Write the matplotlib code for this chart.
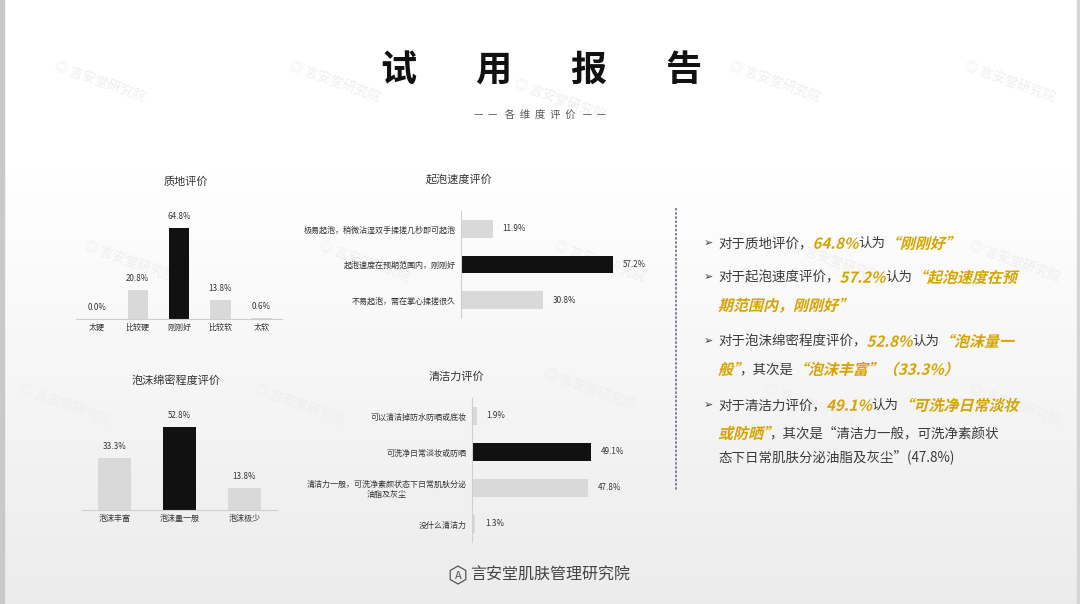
import numpy as np
import matplotlib
matplotlib.use("Agg")
import matplotlib.pyplot as plt
from matplotlib.textpath import TextPath
from matplotlib.font_manager import FontProperties
from matplotlib.patches import PathPatch, RegularPolygon
from matplotlib.transforms import Affine2D

FAM = ['Noto Sans CJK SC', 'DejaVu Sans']
plt.rcParams['font.family'] = FAM

W, H = 1080, 604

# data
texture_cats = ['太硬', '比较硬', '刚刚好', '比较软', '太软']
texture_vals = [0.0, 20.8, 64.8, 13.8, 0.6]

foam_speed_cats = ['极易起泡，稍微沾湿双手揉搓几秒即可起泡', '起泡速度在预期范围内，刚刚好', '不易起泡，需在掌心揉搓很久']
foam_speed_vals = [11.9, 57.2, 30.8]

foam_dense_cats = ['泡沫丰富', '泡沫量一般', '泡沫极少']
foam_dense_vals = [33.3, 52.8, 13.8]

clean_cats = ['可以清洁掉防水防晒或底妆', '可洗净日常淡妆或防晒', '清洁力一般，可洗净素颜状态下日常肌肤分泌\n油脂及灰尘', '没什么清洁力']
clean_vals = [1.9, 49.1, 47.8, 1.3]

BLACK = '#111111'
GREY = '#d9d9d9'
AXC = '#cfcfcf'
TXT = '#3a3a3a'
GOLD = '#d6a300'

fig = plt.figure(figsize=(W / 100, H / 100), dpi=100)

# background axes in pixel coords
bg = fig.add_axes([0, 0, 1, 1], zorder=0)
bg.set_xlim(0, W)
bg.set_ylim(H, 0)
bg.axis('off')
grad = np.ones((H, 1))
yy = np.arange(H)
grad[:, 0] = np.where(yy < 170, 1.0, 1.0 - 0.075 * (yy - 170) / (H - 170))
bg.imshow(np.dstack([grad, grad, grad]), extent=(0, W, H, 0), aspect='auto', zorder=0)
bg.axvspan(0, 4, color='#c9c9c9', zorder=1)
bg.axvspan(W - 3, W, color='#d5d5d5', zorder=1)

# watermarks
wm_pos = [(100, 82), (335, 82), (560, 100), (775, 82), (1010, 82),
          (130, 262), (365, 262), (600, 262), (835, 262), (1015, 262),
          (65, 405), (300, 405), (590, 390), (810, 405), (1015, 405),
          (130, 568), (360, 568), (600, 572), (850, 568), (1015, 568)]
for (wx, wy) in wm_pos:
    bg.text(wx, wy, '◎ 言安堂研究院', fontsize=9.5, color='#eeeeee', rotation=-20,
            ha='center', va='center', rotation_mode='anchor', zorder=1)


def px(left, top, width, height):
    return [left / W, 1 - (top + height) / H, width / W, height / H]


def style(ax, bottom=True):
    ax.patch.set_alpha(0)
    for s in ['top', 'right', 'left', 'bottom']:
        ax.spines[s].set_visible(False)
    side = 'bottom' if bottom else 'left'
    ax.spines[side].set_visible(True)
    ax.spines[side].set_color(AXC)
    ax.spines[side].set_linewidth(0.8)
    ax.tick_params(length=0, labelsize=5.8, colors='#333333')


def colors_for(vals):
    m = max(vals)
    return [BLACK if v == m else GREY for v in vals]


# chart 1: texture
ax1 = fig.add_axes(px(76, 207, 206, 112), zorder=2)
b = ax1.bar(range(len(texture_vals)), texture_vals, width=0.5, color=colors_for(texture_vals))
ax1.bar_label(b, labels=[f'{v:.1f}%' for v in texture_vals], padding=5, fontsize=5.8, color='#333333')
ax1.set_xlim(-0.5, len(texture_vals) - 0.5)
ax1.set_ylim(0, 80)
ax1.set_xticks(range(len(texture_cats)), texture_cats)
ax1.set_yticks([])
style(ax1)
ax1.tick_params(axis='x', pad=3)
fig.text(186 / W, 1 - 182 / H, '质地评价', fontsize=8, color='#333333', ha='center', va='center')

# chart 2: foam speed
ax2 = fig.add_axes(px(461, 211, 186, 107), zorder=2)
b = ax2.barh(range(len(foam_speed_vals)), foam_speed_vals, height=0.5, color=colors_for(foam_speed_vals))
ax2.bar_label(b, labels=[f'{v:.1f}%' for v in foam_speed_vals], padding=7, fontsize=5.8, color='#333333')
ax2.set_ylim(len(foam_speed_vals) - 0.5, -0.5)
ax2.set_xlim(0, 70)
ax2.set_yticks(range(len(foam_speed_cats)), foam_speed_cats)
ax2.set_xticks([])
style(ax2, bottom=False)
ax2.tick_params(axis='y', pad=4)
fig.text(459 / W, 1 - 179 / H, '起泡速度评价', fontsize=8, color='#333333', ha='center', va='center')

# chart 3: foam density
ax3 = fig.add_axes(px(82, 400, 195, 110), zorder=2)
b = ax3.bar(range(len(foam_dense_vals)), foam_dense_vals, width=0.5, color=colors_for(foam_dense_vals))
ax3.bar_label(b, labels=[f'{v:.1f}%' for v in foam_dense_vals], padding=5, fontsize=5.8, color='#333333')
ax3.set_xlim(-0.5, len(foam_dense_vals) - 0.5)
ax3.set_ylim(0, 70)
ax3.set_xticks(range(len(foam_dense_cats)), foam_dense_cats)
ax3.set_yticks([])
style(ax3)
ax3.tick_params(axis='x', pad=3)
fig.text(176 / W, 1 - 380 / H, '泡沫绵密程度评价', fontsize=8, color='#333333', ha='center', va='center')

# chart 4: cleansing
ax4 = fig.add_axes(px(472, 398, 170, 144), zorder=2)
b = ax4.barh(range(len(clean_vals)), clean_vals, height=0.5, color=colors_for(clean_vals))
ax4.bar_label(b, labels=[f'{v:.1f}%' for v in clean_vals], padding=7, fontsize=5.8, color='#333333')
ax4.set_ylim(len(clean_vals) - 0.5, -0.5)
ax4.set_xlim(0, 70)
ax4.set_yticks(range(len(clean_cats)), clean_cats)
for lab in ax4.get_yticklabels():
    lab.set_multialignment('center')
ax4.set_xticks([])
style(ax4, bottom=False)
ax4.tick_params(axis='y', pad=4)
fig.text(456 / W, 1 - 377 / H, '清洁力评价', fontsize=8, color='#333333', ha='center', va='center')

# header
for i, ch in enumerate('试用报告'):
    bg.text(541 + (i - 1.5) * 95, 70, ch, fontsize=26, color='#111111', ha='center', va='center',
            fontweight='bold', zorder=3)
bg.text(540, 116, '—  —   各  维  度  评  价   —  —', fontsize=7.5, color='#555555',
        ha='center', va='center', zorder=3)

# divider
bg.plot([676, 676], [208, 490], color='#6a7090', lw=1.2, ls=(0, (1.5, 1)), zorder=3)

# footer
bg.add_patch(RegularPolygon((458, 575), 6, radius=9, fill=False, ec='#555555', lw=0.9, zorder=3))
bg.text(458, 576, 'A', fontsize=8, color='#555555', ha='center', va='center', zorder=3)
bg.text(470, 575, '言安堂肌肤管理研究院', fontsize=11.5, color='#444444', ha='left', va='center',
        fontweight='light', zorder=3)

# right side summary
renderer = fig.canvas.get_renderer()
gold_prop = FontProperties(family='Noto Sans CJK SC', weight='bold')


def put_plain(x, y, s):
    t = bg.text(x, y, s, fontsize=9.7, color=TXT, ha='left', va='center', zorder=3)
    bb = t.get_window_extent(renderer)
    return bb.x1


def put_gold(x, y, s, size=15):
    tp = TextPath((0, 0), s, size=size, prop=gold_prop)
    tr = Affine2D().skew_deg(14, 0).scale(1, -1).translate(x, y + size * 0.38)
    bg.add_patch(PathPatch(tr.transform_path(tp), color=GOLD, lw=0, zorder=3))
    return x + tp.get_extents().x1


lines = [
    (243, True, [('p', '对于质地评价，'), ('g', '64.8%'), ('p', '认为'), ('g', '“刚刚好”')]),
    (277, True, [('p', '对于起泡速度评价，'), ('g', '57.2%'), ('p', '认为'), ('g', '“起泡速度在预')]),
    (305, False, [('g', '期范围内，刚刚好”')]),
    (341, True, [('p', '对于泡沫绵密程度评价，'), ('g', '52.8%'), ('p', '认为'), ('g', '“泡沫量一')]),
    (369, False, [('g', '般”'), ('p', '，其次是'), ('g', '“泡沫丰富”（33.3%）')]),
    (405, True, [('p', '对于清洁力评价，'), ('g', '49.1%'), ('p', '认为'), ('g', '“可洗净日常淡妆')]),
    (433, False, [('g', '或防晒”'), ('p', '，其次是“清洁力一般，可洗净素颜状')]),
    (458, False, [('p', '态下日常肌肤分泌油脂及灰尘”(47.8%)')]),
]
for y, bullet, runs in lines:
    if bullet:
        bg.text(708, y, '➢', fontsize=8, color=TXT, ha='center', va='center', family=['DejaVu Sans'], zorder=3)
    x = 718
    for kind, s in runs:
        x = put_plain(x, y, s) if kind == 'p' else put_gold(x, y, s)

fig.savefig('out.png', dpi=100)
